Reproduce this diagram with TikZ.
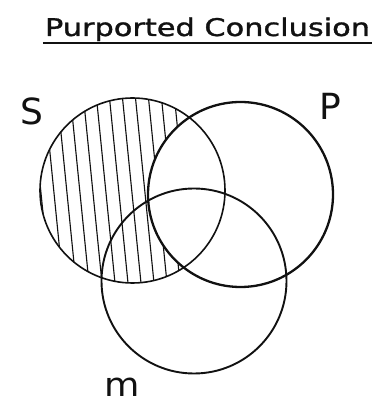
\documentclass[tikz,border=0pt]{standalone}
\usepackage{fontspec}
\usepackage{graphicx}
\setmainfont{DejaVu Sans}
\newfontfamily\titlefont[FakeBold=1.2]{DejaVu Sans}
\usetikzlibrary{calc}
\definecolor{vennInk}{HTML}{111111}

\begin{document}
\begin{tikzpicture}[x=1pt, y=1pt,
  titletext/.style={anchor=base, inner sep=0pt, color=vennInk, font=\titlefont},
  setlabel/.style={inner sep=0pt, color=vennInk,
    font=\fontsize{36}{36}\selectfont},
  hatchline/.style={vennInk, line width=1.1pt},
  setcircle/.style={vennInk, line width=1.6pt}
]
\useasboundingbox (0,0) rectangle (377,413);

% --- CENTRES + RADIUS ---
\def\rr{92.5}
\coordinate (cS) at (132.5,222.5);
\coordinate (cP) at (240.5,218.5);
\coordinate (cM) at (194,132);

% --- HATCH: S outside P ---
\begin{scope}[even odd rule]
  \clip (cS) circle (\rr);
  \clip (cP) circle (\rr) (0,0) rectangle (377,413);
  \foreach \hx in {30,43,...,190} {
    \draw[hatchline] (\hx,330) -- (\hx+22,110);
  }
\end{scope}

% --- CIRCLES ---
\draw[setcircle] (cS) circle (\rr);
\draw[setcircle, line width=2.3pt] (cP) circle (\rr);
\draw[setcircle, line width=1.9pt] (cM) circle (\rr);

% --- SET LABELS ---
\node[setlabel] (lblS) at (32,302) {S};
\node[setlabel] (lblP) at (330,307) {P};
\node[setlabel, font=\fontsize{33}{33}\selectfont, xscale=1.1, transform shape]
  (lblM) at (122,26) {m};

% --- TITLE ---
\node[titletext] (title) at (207.5,377)
  {\resizebox{325pt}{18.5pt}{Purported Conclusion}};
\draw[vennInk, line width=1.5pt]
  ($(title.base west)+(-2,-7)$) -- ($(title.base east)+(2,-7)$);

\end{tikzpicture}
\end{document}
